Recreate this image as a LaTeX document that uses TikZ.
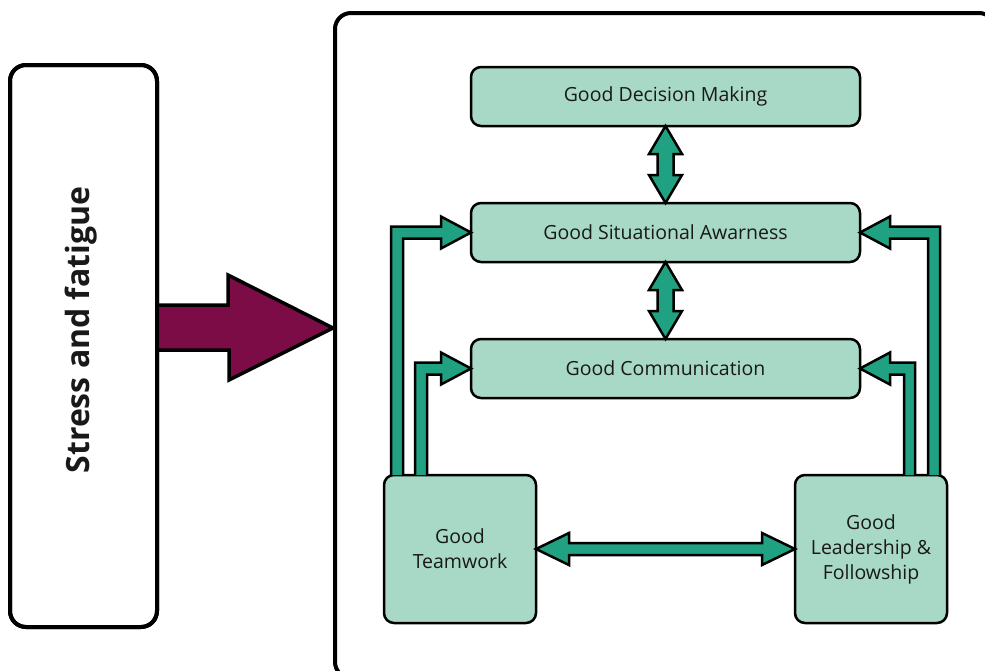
\documentclass[tikz,border=0pt]{standalone}
\usepackage{fontspec}
\setmainfont{Open Sans}
\usetikzlibrary{calc}
\definecolor{boxfill}{RGB}{167,217,198}
\definecolor{arrowfill}{RGB}{32,162,130}
\definecolor{purp}{RGB}{123,12,70}
\definecolor{txt}{RGB}{25,25,25}
\begin{document}
\begin{tikzpicture}[x=1pt,y=-1pt,
  greenbox/.style={draw=black,line width=2.5pt,fill=boxfill,rounded corners=10pt,
    inner sep=0pt,outer sep=0pt,align=center,text=txt,font=\fontsize{19.5}{25}\selectfont},
  blockarrow/.style={draw=black,line width=2.5pt,fill=arrowfill,line join=miter},
  bigframe/.style={draw=black,line width=4pt,rounded corners=16pt,inner sep=0pt,outer sep=0pt}]
\useasboundingbox (0,0) rectangle (985,670);
\clip (0,0) rectangle (985,670);
% frames
\node[bigframe,minimum width=660pt,minimum height=665pt] (main) at (665,345.5) {};
\coordinate (tip) at ($(main.north west)+(-2,315)$);
\node[bigframe,minimum width=147pt,minimum height=562pt] (sf) at (83.5,346) {};
% purple arrow
\filldraw[draw=black,line width=3.5pt,fill=purp,line join=miter]
  ($(sf.north east)+(0,240)$) -- ++(71,0) -- ++(0,-30) -- (tip) -- ++(-104,52) -- ++(0,-30) -- ($(sf.north east)+(0,285)$);
\node[bigframe,minimum width=147pt,minimum height=562pt] at (sf.center) {};
\node[rotate=90,font=\fontsize{32}{36}\selectfont\bfseries,text=txt] (sftext) at ($(sf.center)+(-2,-16)$) {Stress and fatigue};
% boxes
\node[greenbox,minimum width=389pt,minimum height=59pt] (dm) at (665.5,96.5) {Good Decision Making};
\node[greenbox,minimum width=389pt,minimum height=59pt] (sa) at (665.5,232.5) {Good Situational Awarness};
\node[greenbox,minimum width=389pt,minimum height=59pt] (gc) at (665.5,368.5) {Good Communication};
\node[greenbox,minimum width=152pt,minimum height=148pt] (tw) at (460,549) {Good\\Teamwork};
\node[greenbox,minimum width=152pt,minimum height=148pt] (lf) at (871,549) {Good\\Leadership \&\\Followship};
% vertical double arrows
\filldraw[blockarrow] (dm.south) -- ++(16.5,28) -- ++(-8.5,0) -- ++(0,21) -- ++(8.5,0) -- (sa.north)
  -- ++(-16.5,-28) -- ++(8.5,0) -- ++(0,-21) -- ++(-8.5,0) -- cycle;
\filldraw[blockarrow] (sa.south) -- ++(16.5,28) -- ++(-8.5,0) -- ++(0,21) -- ++(8.5,0) -- (gc.north)
  -- ++(-16.5,-28) -- ++(8.5,0) -- ++(0,-21) -- ++(-8.5,0) -- cycle;
% horizontal double arrow
\filldraw[blockarrow] (tw.east) -- ++(33,-16) -- ++(0,10) -- ++(193,0) -- ++(0,-10) -- (lf.west)
  -- ++(-33,16) -- ++(0,-10) -- ++(-193,0) -- ++(0,10) -- cycle;
% elbow arrows left
\filldraw[blockarrow] ($(tw.north west)+(7,0)$) |- ($(sa.west)+(-30,-6)$) -- ++(0,-10) -- (sa.west)
  -- ($(sa.west)+(-30,16)$) -- ++(0,-10) -| ($(tw.north west)+(19,0)$);
\filldraw[blockarrow] ($(tw.north west)+(31,0)$) |- ($(gc.west)+(-30,-6)$) -- ++(0,-10) -- (gc.west)
  -- ($(gc.west)+(-30,16)$) -- ++(0,-10) -| ($(tw.north west)+(43,0)$);
% elbow arrows right
\filldraw[blockarrow] ($(lf.north east)+(-7,0)$) |- ($(sa.east)+(30,-6)$) -- ++(0,-10) -- (sa.east)
  -- ($(sa.east)+(30,16)$) -- ++(0,-10) -| ($(lf.north east)+(-19,0)$);
\filldraw[blockarrow] ($(lf.north east)+(-32,0)$) |- ($(gc.east)+(30,-6)$) -- ++(0,-10) -- (gc.east)
  -- ($(gc.east)+(30,16)$) -- ++(0,-10) -| ($(lf.north east)+(-43,0)$);
\end{tikzpicture}
\end{document}
